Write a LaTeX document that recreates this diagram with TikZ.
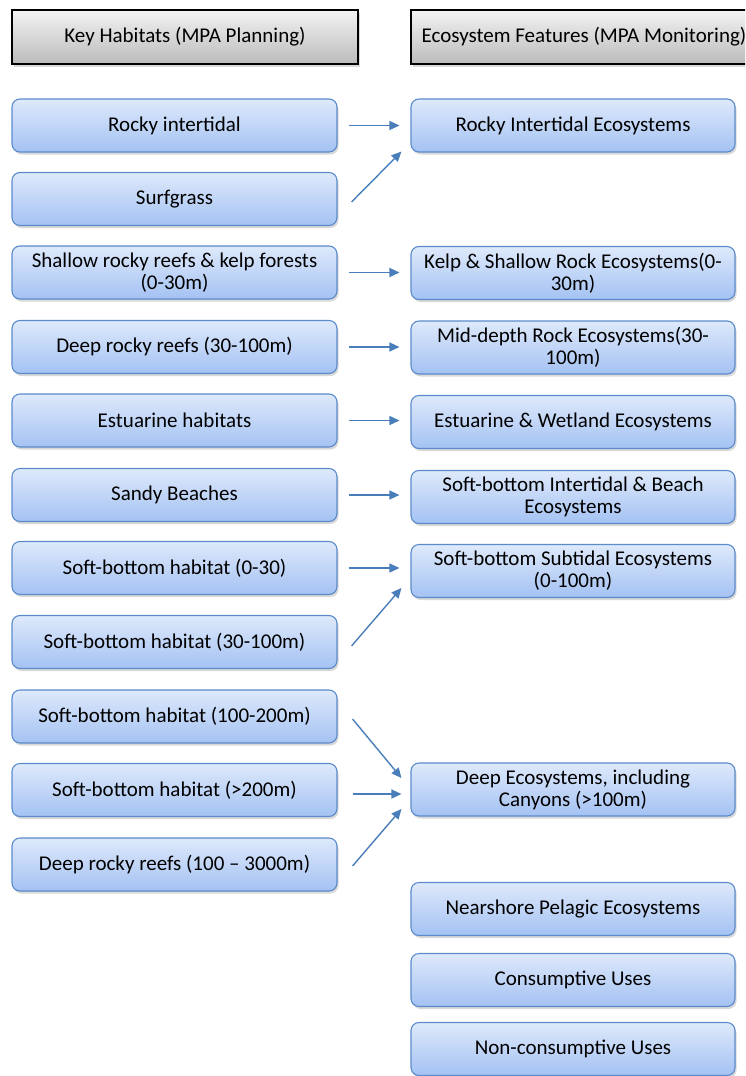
\documentclass[tikz,border=0pt]{standalone}
\usepackage{fontspec}
\setmainfont{Carlito}
\usetikzlibrary{arrows.meta,shadows,calc}

\definecolor{boxline}{HTML}{5B8BCB}
\definecolor{boxtop}{HTML}{DEE9FB}
\definecolor{boxbot}{HTML}{A4C2F3}
\definecolor{headtop}{HTML}{F3F3F3}
\definecolor{headbot}{HTML}{BBBBBB}
\definecolor{arrowblue}{HTML}{4A7EBB}

\tikzset{
  txt/.style={font=\fontsize{21}{22}\selectfont, align=center, inner sep=0pt, text=black},
  softshadow/.style={drop shadow={opacity=0.3, shadow xshift=1.5pt, shadow yshift=-2.5pt}},
  headbox/.style={txt, draw=black, line width=1.2pt, top color=headtop, bottom color=headbot,
    minimum width=346pt, minimum height=54pt, softshadow},
  habbox/.style={txt, draw=boxline, line width=1.1pt, rounded corners=8pt,
    top color=boxtop, bottom color=boxbot, minimum width=325pt, minimum height=53pt, softshadow},
  featbox/.style={habbox, minimum width=324pt},
  link/.style={draw=arrowblue, line width=1.4pt, -{Triangle[length=10pt,width=9pt]}}
}

\begin{document}
\begin{tikzpicture}[x=1pt,y=-1pt]
  \useasboundingbox (0,0) rectangle (745,1076);
  \clip (0,0) rectangle (745,1076);

  % column headers
  \node[headbox] (hleft)  at (185,37) {Key Habitats (MPA Planning)};
  \node[headbox] (hright) at (584,37) {Ecosystem Features (MPA Monitoring)};

  % key habitats
  \node[habbox] (l1)  at (174.5,125.5) {Rocky intertidal};
  \node[habbox] (l2)  at (174.5,199)   {Surfgrass};
  \node[habbox] (l3)  at (174.5,272.5) {Shallow rocky reefs \& kelp forests\\(0-30m)};
  \node[habbox] (l4)  at (174.5,347)   {Deep rocky reefs (30-100m)};
  \node[habbox] (l5)  at (174.5,420.5) {Estuarine habitats};
  \node[habbox] (l6)  at (174.5,495)   {Sandy Beaches};
  \node[habbox] (l7)  at (174.5,568)   {Soft-bottom habitat (0-30)};
  \node[habbox] (l8)  at (174.5,642)   {Soft-bottom habitat (30-100m)};
  \node[habbox] (l9)  at (174.5,716.5) {Soft-bottom habitat (100-200m)};
  \node[habbox] (l10) at (174.5,790)   {Soft-bottom habitat (>200m)};
  \node[habbox] (l11) at (174.5,864.5) {Deep rocky reefs (100 – 3000m)};

  % ecosystem features
  \node[featbox] (r1)  at (573,125.5) {Rocky Intertidal Ecosystems};
  \node[featbox] (r3)  at (573,273)   {Kelp \& Shallow Rock Ecosystems(0-\\30m)};
  \node[featbox] (r4)  at (573,347.5) {Mid-depth Rock Ecosystems(30-\\100m)};
  \node[featbox] (r5)  at (573,422)   {Estuarine \& Wetland Ecosystems};
  \node[featbox] (r6)  at (573,497)   {Soft-bottom Intertidal \& Beach\\Ecosystems};
  \node[featbox] (r7)  at (573,571)   {Soft-bottom Subtidal Ecosystems\\(0-100m)};
  \node[featbox] (r8)  at (573,789.5) {Deep Ecosystems, including\\Canyons (>100m)};
  \node[featbox] (r9)  at (573,909)   {Nearshore Pelagic Ecosystems};
  \node[featbox] (r10) at (573,980)   {Consumptive Uses};
  \node[featbox] (r11) at (573,1049)  {Non-consumptive Uses};

  % one-to-one links
  \foreach \a/\b in {l1/r1, l3/r3, l4/r4, l5/r5, l6/r6, l7/r7}
    \draw[link] ([xshift=11pt]\a.east) -- ($(\b.west |- \a.east)+(-11,0)$);

  % converging links
  \draw[link] ([xshift=14pt,yshift=-3pt]l2.east) -- ([xshift=-9pt,yshift=1pt]r1.south west);
  \draw[link] ([xshift=14pt,yshift=-4pt]l8.east) -- ([xshift=-9pt,yshift=-17pt]r7.west);
  \draw[link] ([xshift=15pt,yshift=-2.5pt]l9.east) -- ([xshift=-9pt,yshift=11.5pt]r8.west);
  \draw[link] ([xshift=15pt,yshift=-4pt]l10.east) -- ($(r8.west |- l10.east)+(-9,4)$);
  \draw[link] ([xshift=15pt,yshift=-1.5pt]l11.east) -- ([xshift=-9pt,yshift=-19.5pt]r8.west);
\end{tikzpicture}
\end{document}
